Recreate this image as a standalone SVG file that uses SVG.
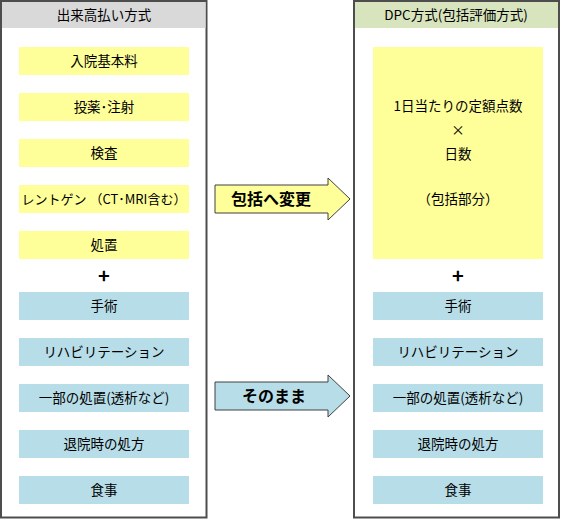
<svg xmlns="http://www.w3.org/2000/svg" width="562" height="519" viewBox="0 0 562 519">
<style>
text{font-family:"Noto Sans CJK JP","Noto Sans",sans-serif;font-size:13.5px;fill:#000;text-anchor:middle}
.panel{fill:#fff;stroke:#4d4d4d;stroke-width:2}
.y{fill:#ffff99}
.b{fill:#b7dde8}
.ar{stroke:#404040;stroke-width:1}
.big{font-size:16px;font-weight:bold}
.plus{font-size:20px;font-weight:bold}
</style>
<rect width="562" height="519" fill="#fff"/>
<g id="left-panel">
<rect class="panel" x="1" y="1" width="205.5" height="516.5"/>
<rect x="2" y="2" width="203.5" height="26" fill="#d9d9d9"/>
<text x="104" y="20">出来高払い方式</text>
</g>
<g id="right-panel">
<rect class="panel" x="354" y="1" width="205" height="516.5"/>
<rect x="355" y="2" width="203" height="26" fill="#d7e4bd"/>
<text x="456" y="20">DPC方式(包括評価方式)</text>
</g>
<g id="l1"><rect class="y" x="19" y="47" width="170" height="28"/><text x="104" y="66">入院基本料</text></g>
<g id="l2"><rect class="y" x="19" y="93" width="170" height="28"/><text x="104" y="112">投薬･注射</text></g>
<g id="l3"><rect class="y" x="19" y="139" width="170" height="28"/><text x="104" y="158">検査</text></g>
<g id="l4"><rect class="y" x="19" y="185" width="170" height="28"/><text x="104" y="204" style="font-size:13px">レントゲン （CT･MRI含む）</text></g>
<g id="l5"><rect class="y" x="19" y="231" width="170" height="28"/><text x="104" y="250">処置</text></g>
<g id="lplus"><text class="plus" x="104" y="283">+</text></g>
<g id="l6"><rect class="b" x="19" y="292" width="170" height="28"/><text x="104" y="311">手術</text></g>
<g id="l7"><rect class="b" x="19" y="338" width="170" height="28"/><text x="104" y="357">リハビリテーション</text></g>
<g id="l8"><rect class="b" x="19" y="384" width="170" height="28"/><text x="104" y="403">一部の処置(透析など)</text></g>
<g id="l9"><rect class="b" x="19" y="430" width="170" height="28"/><text x="104" y="449">退院時の処方</text></g>
<g id="l10"><rect class="b" x="19" y="476" width="170" height="28"/><text x="104" y="495">食事</text></g>
<g id="r1"><rect class="y" x="373" y="47" width="170" height="212"/>
<text x="458" y="111">1日当たりの定額点数</text>
<text x="458" y="135">×</text>
<text x="458" y="159">日数</text>
<text x="458" y="204">（包括部分）</text></g>
<g id="rplus"><text class="plus" x="458" y="283">+</text></g>
<g id="r6"><rect class="b" x="373" y="292" width="170" height="28"/><text x="458" y="311">手術</text></g>
<g id="r7"><rect class="b" x="373" y="338" width="170" height="28"/><text x="458" y="357">リハビリテーション</text></g>
<g id="r8"><rect class="b" x="373" y="384" width="170" height="28"/><text x="458" y="403">一部の処置(透析など)</text></g>
<g id="r9"><rect class="b" x="373" y="430" width="170" height="28"/><text x="458" y="449">退院時の処方</text></g>
<g id="r10"><rect class="b" x="373" y="476" width="170" height="28"/><text x="458" y="495">食事</text></g>
<g id="connectors">
<g id="arrow1"><path class="ar" d="M215,185 H328 V178 L350,199 L328,220 V213 H215 Z" fill="#ffff99"/><text class="big" x="271" y="205">包括へ変更</text></g>
<g id="arrow2"><path class="ar" d="M215,382 H328 V375 L350,396 L328,417 V410 H215 Z" fill="#b7dde8"/><text class="big" x="274" y="402">そのまま</text></g>
</g>
</svg>
